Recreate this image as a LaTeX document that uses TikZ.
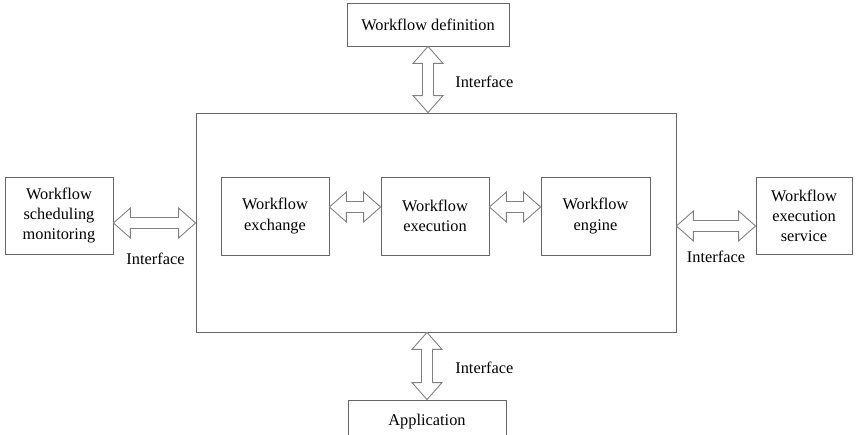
\documentclass[tikz,border=0pt]{standalone}
\usepackage{fontspec}
\setmainfont{Liberation Serif}
\usetikzlibrary{calc}

\newcommand{\BiArrow}[2]{
	\def\hl{0.34cm}
	\def\hw{0.3cm}
	\def\sw{0.11cm}
	\coordinate (ha) at ($(#1)!\hl!(#2)$);
	\coordinate (hb) at ($(#2)!\hl!(#1)$);
	\draw[biarrow] (#1) -- ($(ha)!\hw!90:(#2)$) -- ($(ha)!\sw!90:(#2)$) -- ($(hb)!\sw!-90:(#1)$) -- ($(hb)!\hw!-90:(#1)$) -- (#2) -- ($(hb)!\hw!90:(#1)$) -- ($(hb)!\sw!90:(#1)$) -- ($(ha)!\sw!-90:(#2)$) -- ($(ha)!\hw!-90:(#2)$) -- cycle;
}

\begin{document}
\begin{tikzpicture}[x=0.02cm, y=-0.02cm, line join=miter,
	box/.style={draw=black!60, line width=0.5pt, align=center, inner sep=0pt, font=\fontsize{9.3}{11.4}\selectfont},
	biarrow/.style={draw=black!50, line width=0.5pt, fill=white},
	lbl/.style={font=\fontsize{9.3}{11.4}\selectfont, inner sep=0pt}]

	\useasboundingbox (0,0) rectangle (857,435);
	\clip (0,0) rectangle (857,435);

	% boxes
	\node[box, minimum width=3.24cm, minimum height=0.86cm] (def) at (428,24.5) {Workflow definition};
	\node[box, minimum width=9.6cm, minimum height=4.38cm] (main) at (436,222.5) {};
	\node[box, minimum width=2.16cm, minimum height=1.54cm] (sched) at (59,215.5) {Workflow\\scheduling\\monitoring};
	\node[box, minimum width=2.16cm, minimum height=1.56cm] (exch) at (275,216) {Workflow\\exchange};
	\node[box, minimum width=2.16cm, minimum height=1.56cm] (exec) at (435,216) {Workflow\\execution};
	\node[box, minimum width=2.18cm, minimum height=1.56cm] (eng) at (595.5,216) {Workflow\\engine};
	\node[box, minimum width=1.92cm, minimum height=1.54cm] (serv) at (804,215.5) {Workflow\\execution\\service};
	\node[box, minimum width=3.16cm, minimum height=0.86cm] (app) at (427,421.5) {Application};

	% arrow ends
	\coordinate (d1) at (def.south);
	\coordinate (d2) at (def.south |- main.north);
	\coordinate (s1) at (sched.east |- 0,223);
	\coordinate (s2) at (main.west |- 0,223);
	\coordinate (x1) at (exch.east |- 0,207);
	\coordinate (x2) at (exec.west |- 0,207);
	\coordinate (g1) at (exec.east |- 0,207);
	\coordinate (g2) at (eng.west |- 0,207);
	\coordinate (v1) at (main.east |- 0,226);
	\coordinate (v2) at (serv.west |- 0,226);
	\coordinate (a1) at (app.north |- main.south);
	\coordinate (a2) at (app.north);

	\BiArrow{d1}{d2}
	\BiArrow{s1}{s2}
	\BiArrow{x1}{x2}
	\BiArrow{g1}{g2}
	\BiArrow{v1}{v2}
	\BiArrow{a1}{a2}

	\node[lbl, anchor=west] (itop) at (455,82) {Interface};
	\node[lbl] (ileft) at (155.5,259) {Interface};
	\node[lbl] (iright) at (716,257) {Interface};
	\node[lbl, anchor=west] (ibot) at (455,368) {Interface};

\end{tikzpicture}
\end{document}
